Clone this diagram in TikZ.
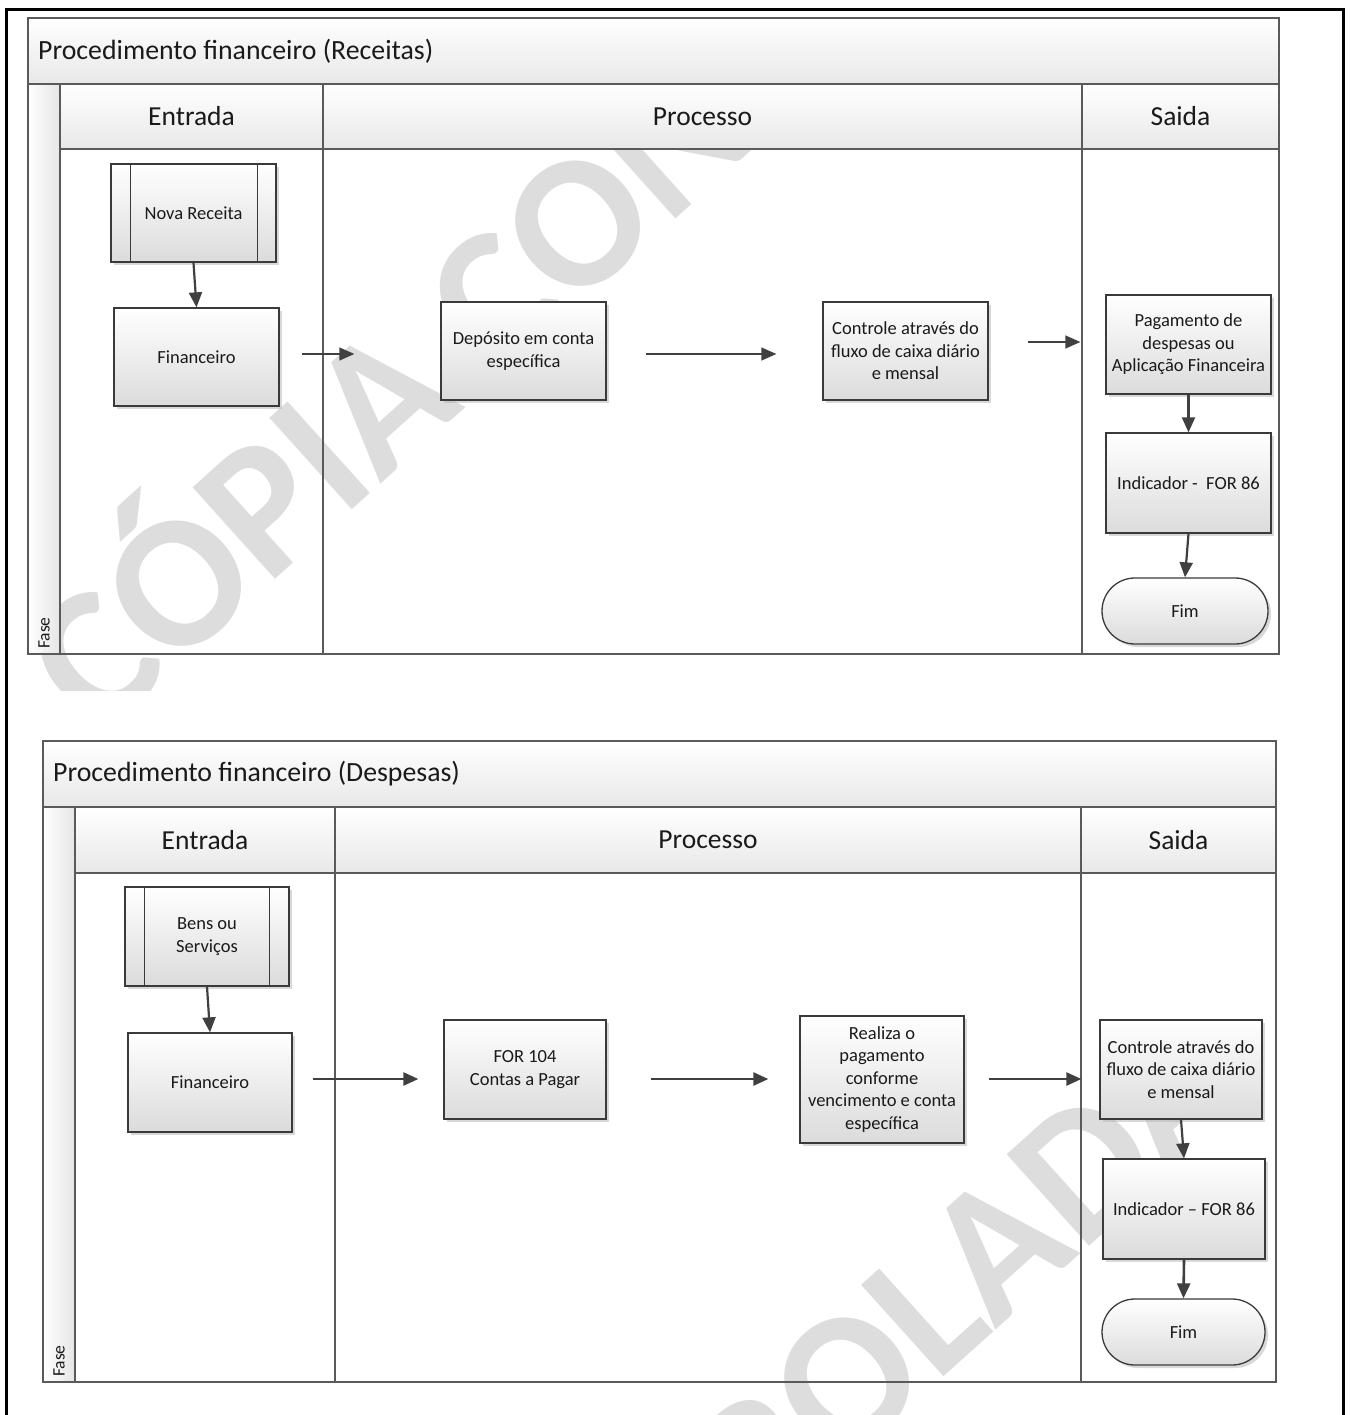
\documentclass[tikz,border=0pt]{standalone}
\usepackage{fontspec}
\setmainfont{Carlito}
\usetikzlibrary{arrows.meta,shadows}
\definecolor{lanegray}{HTML}{5A5A5A}
\definecolor{boxgray}{HTML}{3A3A3A}
\definecolor{arrgray}{HTML}{404040}
\definecolor{wmgray}{HTML}{DDDDDD}
\definecolor{txt}{HTML}{1A1A1A}
\begin{document}
\begin{tikzpicture}[x=1pt,y=-1pt,
  lane/.style={draw=lanegray, line width=1.4pt},
  band/.style={lane, top color=white, bottom color=black!9},
  fasecol/.style={lane, left color=white, right color=black!10},
  lanetitle/.style={font=\fontsize{27.8}{32}\selectfont, text=txt, anchor=west, inner sep=0pt},
  lanehead/.style={font=\fontsize{27.5}{32}\selectfont, text=txt},
  fasetxt/.style={font=\fontsize{17.5}{20}\selectfont, text=txt, rotate=90, anchor=west, inner sep=0pt},
  proc/.style={draw=boxgray, line width=1.3pt, top color=white, bottom color=black!14,
    drop shadow={shadow xshift=3pt, shadow yshift=-3pt, fill=black!30, opacity=.5},
    minimum width=165pt, minimum height=98pt, align=center, text=txt,
    font=\fontsize{18.5}{22.5}\selectfont, inner sep=2pt},
  term/.style={proc, rounded corners=32.9pt, minimum height=66pt},
  innerline/.style={draw=boxgray, line width=1.3pt},
  arr/.style={draw=arrgray, line width=2.2pt, -{Triangle[length=15pt,width=13pt]}},
  thinarr/.style={arr, line width=1.3pt},
  wm/.style={text=wmgray, font=\fontsize{190}{190}\selectfont\bfseries, inner sep=0pt, anchor=base west, rotate=42}
]
\useasboundingbox (0,0) rectangle (1349,1415);
\clip (0,0) rectangle (1349,1415);

% watermark
\begin{scope}
\clip (0,18) rectangle (1349,690);
\node[wm] (wm1) at (98.5,739) {CÓPIA CONTROLADA};
\end{scope}
\begin{scope}
\clip (0,700) rectangle (1349,1415);
\node[wm] (wm2) at (31,2199) {CÓPIA CONTROLADA};
\end{scope}

% outer frame
\draw[line width=3pt, black] (6.5,9.5) rectangle (1343.5,1440);

% ===== top pool =====
\path[band] (28,18) rectangle (1279,84);
\path[band] (60,84) rectangle (1279,149);
\path[fasecol] (28,84) rectangle (60,654);
\draw[lane] (60,149) rectangle (1279,654);
\draw[lane] (323,84) -- (323,654);
\draw[lane] (1082,84) -- (1082,654);
\draw[lane] (28,18) rectangle (1279,654);
\node[lanetitle] (t1) at (38,51) {Procedimento financeiro (Receitas)};
\node[lanehead] (h1a) at (191.5,116.5) {Entrada};
\node[lanehead] (h1b) at (702.5,116.5) {Processo};
\node[lanehead] (h1c) at (1180.5,116.5) {Saida};
\node[fasetxt] (f1) at (44,649) {Fase};

\node[proc] (nr) at (193.5,213) {Nova Receita};
\draw[innerline] ([xshift=20pt]nr.north west) -- ([xshift=20pt]nr.south west);
\draw[innerline] ([xshift=-19pt]nr.north east) -- ([xshift=-19pt]nr.south east);
\node[proc] (fin1) at (196.5,357) {Financeiro};
\node[proc] (dep) at (523.5,351) {Depósito em conta\\específica};
\node[proc] (ctl1) at (905.5,351) {Controle através do\\fluxo de caixa diário\\e mensal};
\node[proc, minimum height=99pt] (pag) at (1188.5,344.5) {Pagamento de\\despesas ou\\Aplicação Financeira};
\node[proc, minimum height=100pt] (ind1) at (1188.5,483) {Indicador -~ FOR 86};
\node[term, minimum width=166pt] (fim1) at (1185,611) {Fim};

\coordinate (ya) at (0,354);
\coordinate (yb) at (0,342);
\draw[arr] (nr.south) -- (fin1.north);
\draw[thinarr, shorten <=22pt, shorten >=86pt] (fin1.east |- ya) -- (dep.west |- ya);
\draw[thinarr, shorten <=39pt, shorten >=46pt] (dep.east |- ya) -- (ctl1.west |- ya);
\draw[thinarr, shorten <=39pt, shorten >=25pt] (ctl1.east |- yb) -- (pag.west |- yb);
\draw[arr] (pag.south) -- (ind1.north);
\draw[arr] (ind1.south) -- (fim1.north);

% ===== bottom pool =====
\path[band] (43,741) rectangle (1276,807);
\path[band] (75,807) rectangle (1276,873);
\path[fasecol] (43,807) rectangle (75,1382);
\draw[lane] (75,873) rectangle (1276,1382);
\draw[lane] (335,807) -- (335,1382);
\draw[lane] (1081,807) -- (1081,1382);
\draw[lane] (43,741) rectangle (1276,1382);
\node[lanetitle] (t2) at (53,774) {Procedimento financeiro (Despesas)};
\node[lanehead] (h2a) at (205,840) {Entrada};
\node[lanehead] (h2b) at (708,840) {Processo};
\node[lanehead] (h2c) at (1178.5,840) {Saida};
\node[fasetxt] (f2) at (59,1377) {Fase};

\node[proc, minimum width=164pt, minimum height=99pt] (bs) at (207,936.5) {Bens ou\\Serviços};
\draw[innerline] ([xshift=20pt]bs.north west) -- ([xshift=20pt]bs.south west);
\draw[innerline] ([xshift=-20pt]bs.north east) -- ([xshift=-20pt]bs.south east);
\node[proc, minimum width=164pt, minimum height=99pt] (fin2) at (210,1082.5) {Financeiro};
\node[proc, minimum width=162pt, minimum height=99pt] (f104) at (525,1069.5) {FOR 104\\Contas a Pagar};
\node[proc, minimum width=164pt, minimum height=127pt] (real) at (882,1079.5) {Realiza o\\pagamento\\conforme\\vencimento e conta\\específica};
\node[proc, minimum width=162pt, minimum height=99pt] (ctl2) at (1181,1069.5) {Controle através do\\fluxo de caixa diário\\e mensal};
\node[proc, minimum width=162pt, minimum height=100pt] (ind2) at (1184,1209) {Indicador – FOR 86};
\node[term, minimum width=163pt] (fim2) at (1183.5,1332) {Fim};

\coordinate (yc) at (0,1079);
\draw[arr] (bs.south) -- (fin2.north);
\draw[arr, line width=2.6pt, shorten <=20pt, shorten >=25pt] (fin2.east |- yc) -- (f104.west |- yc);
\draw[arr, line width=2.6pt, shorten <=44pt, shorten >=31pt] (f104.east |- yc) -- (real.west |- yc);
\draw[arr, line width=2.6pt, shorten <=24pt, shorten >=18pt] (real.east |- yc) -- (ctl2.west |- yc);
\draw[arr] (ctl2.south) -- (ind2.north);
\draw[arr, line width=2.6pt] (ind2.south) -- (fim2.north);
\end{tikzpicture}
\end{document}
